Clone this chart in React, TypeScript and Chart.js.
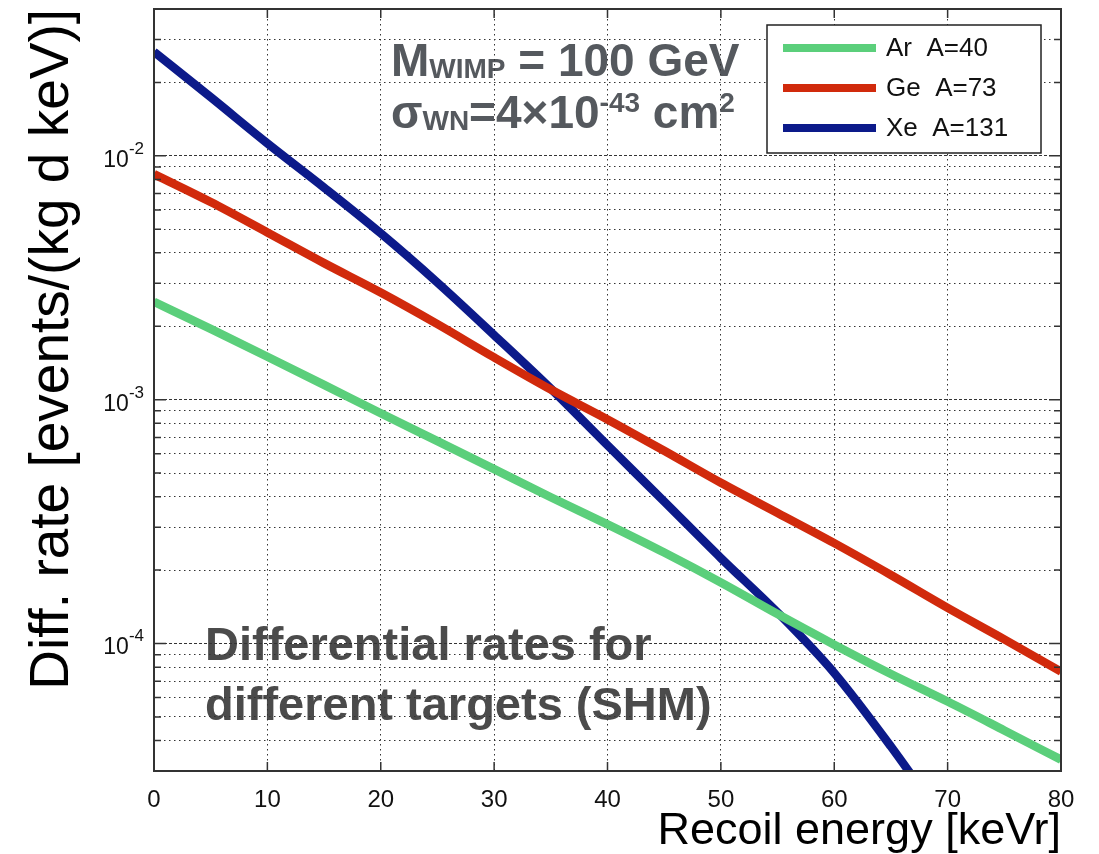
import React, { useEffect, useRef } from 'react';
import { Chart, registerables } from 'chart.js';

Chart.register(...registerables);

// ---- data ----
const energies = [0, 5, 10, 15, 20, 25, 30, 35, 40, 45, 50, 55, 60, 65, 70, 75, 80];
const arRate = [0.00252, 0.00195, 0.0015, 0.00115, 0.000879, 0.000676, 0.000519, 0.000398, 0.000308, 0.000236, 0.000178, 0.000132, 0.0000989, 0.000075, 0.0000578, 0.000044, 0.0000334];
const geRate = [0.00841, 0.00646, 0.00485, 0.00363, 0.00275, 0.00204, 0.00149, 0.0011, 0.00083, 0.000617, 0.000456, 0.000343, 0.000258, 0.000191, 0.00014, 0.000104, 0.0000767];
const xeRate = [0.0267, 0.0174, 0.01125, 0.00741, 0.00481, 0.00302, 0.00184, 0.00111, 0.00065, 0.000382, 0.000224, 0.000134, 0.0000757, 0.0000378, 0.0000178];
const seriesLabels = ['Ar  A=40', 'Ge  A=73', 'Xe  A=131'];
const seriesColors = ['#5bcf7b', '#d12a0c', '#0c1a8a'];
const xTicks = [0, 10, 20, 30, 40, 50, 60, 70, 80];
const yDecades = [-5, -4, -3, -2];
const yMin = 3e-5;
const yMax = 4e-2;

const FONT = '"Liberation Sans", Arial, Helvetica, sans-serif';

const isDecade = (v: number) => {
  const l = Math.log10(v);
  return Math.abs(l - Math.round(l)) < 1e-6;
};

function drawSegments(ctx: CanvasRenderingContext2D, x: number, y: number, segs: [string, number, number][], color: string, weight = 'bold') {
  ctx.fillStyle = color;
  ctx.textBaseline = 'alphabetic';
  ctx.textAlign = 'left';
  let cx = x;
  for (const [t, size, dy] of segs) {
    ctx.font = `${weight} ${size}px ${FONT}`;
    ctx.fillText(t, cx, y + dy);
    cx += ctx.measureText(t).width;
  }
  return cx - x;
}

const annotationPlugin = {
  id: 'annotations',
  beforeDraw(chart: any) {
    const { ctx, chartArea } = chart;
    const { left, top } = chartArea;
    ctx.save();
    const grey = '#55595e';
    drawSegments(ctx, left + 237, top + 67, [['M', 46, 0], ['WIMP', 28, 2], [' = 100 GeV', 46, 0]], grey);
    drawSegments(ctx, left + 237, top + 119, [['σ', 46, 0], ['WN', 28, 2], ['=4×10', 46, 0], ['-43', 28, -16], [' cm', 46, 0], ['2', 28, -16]], grey);
    ctx.font = `bold 47px ${FONT}`;
    ctx.fillStyle = '#4b4b4b';
    ctx.fillText('Differential rates for', left + 51, top + 651);
    ctx.fillText('different targets (SHM)', left + 51, top + 711);
    ctx.restore();
  },
};

const yLabelPlugin = {
  id: 'yLabels',
  afterDraw(chart: any) {
    const { ctx, chartArea, scales } = chart;
    ctx.save();
    scales.y.ticks.forEach((t: any) => {
      if (!isDecade(t.value)) return;
      const py = scales.y.getPixelForValue(t.value);
      const exp = String(Math.round(Math.log10(t.value)));
      ctx.font = `17px ${FONT}`;
      const wExp = ctx.measureText(exp).width;
      ctx.font = `23px ${FONT}`;
      const wBase = ctx.measureText('10').width;
      const xEnd = chartArea.left - 9;
      const x0 = xEnd - wExp - wBase - 1;
      drawSegments(ctx, x0, py + 11, [['10', 23, 0], [exp, 17, -13]], '#111', 'normal');
    });
    ctx.restore();
  },
};

const framePlugin = {
  id: 'frame',
  afterDatasetsDraw(chart: any) {
    const { ctx, chartArea, scales } = chart;
    const { left, right, top, bottom } = chartArea;
    ctx.save();
    ctx.strokeStyle = '#333';
    ctx.lineWidth = 1.5;
    ctx.beginPath();
    scales.x.ticks.forEach((t: any) => {
      const px = scales.x.getPixelForValue(t.value);
      ctx.moveTo(px, bottom);
      ctx.lineTo(px, bottom - 9);
      ctx.moveTo(px, top);
      ctx.lineTo(px, top + 9);
    });
    scales.y.ticks.forEach((t: any) => {
      const py = scales.y.getPixelForValue(t.value);
      const len = isDecade(t.value) ? 12 : 7;
      ctx.moveTo(left, py);
      ctx.lineTo(left + len, py);
      ctx.moveTo(right, py);
      ctx.lineTo(right - len, py);
    });
    ctx.stroke();
    ctx.lineWidth = 2;
    ctx.strokeRect(left, top, right - left, bottom - top);

    // legend box
    const bx = right - 294;
    const by = top + 16;
    const bw = 274;
    const bh = 128;
    ctx.fillStyle = '#ffffff';
    ctx.fillRect(bx, by, bw, bh);
    ctx.lineWidth = 1.5;
    ctx.strokeStyle = '#222';
    ctx.strokeRect(bx, by, bw, bh);
    chart.data.datasets.forEach((ds: any, i: number) => {
      const y = by + 23 + i * 40;
      ctx.strokeStyle = ds.borderColor;
      ctx.lineWidth = 8;
      ctx.beginPath();
      ctx.moveTo(bx + 16, y);
      ctx.lineTo(bx + 109, y);
      ctx.stroke();
      ctx.fillStyle = '#111';
      ctx.font = `26px ${FONT}`;
      ctx.textBaseline = 'middle';
      ctx.textAlign = 'left';
      ctx.fillText(ds.label, bx + 119, y + 1);
    });
    ctx.restore();
  },
};

export default function App() {
  const canvasRef = useRef<HTMLCanvasElement | null>(null);

  useEffect(() => {
    if (!canvasRef.current) return;
    const mk = (xs: number[], ys: number[]) => ys.map((y, i) => ({ x: xs[i], y }));
    const rates = [arRate, geRate, xeRate];
    const chart = new Chart(canvasRef.current, {
      type: 'line',
      data: {
        datasets: rates.map((r, i) => ({
          label: seriesLabels[i],
          data: mk(energies, r),
          borderColor: seriesColors[i],
          backgroundColor: seriesColors[i],
          borderWidth: 8.5,
          pointRadius: 0,
          fill: false,
          cubicInterpolationMode: 'monotone' as const,
        })),
      },
      options: {
        animation: false,
        responsive: true,
        maintainAspectRatio: false,
        layout: { padding: { left: 0, right: 38, top: 9, bottom: 0 } },
        plugins: {
          legend: { display: false },
          tooltip: { enabled: false },
        },
        scales: {
          x: {
            type: 'linear',
            min: 0,
            max: 80,
            afterBuildTicks: (scale: any) => {
              scale.ticks = xTicks.map((v) => ({ value: v }));
            },
            afterFit: (scale: any) => {
              scale.height = 83;
              scale.paddingLeft = 0;
              scale.paddingRight = 0;
            },
            ticks: {
              autoSkip: false,
              padding: 15,
              color: '#111',
              font: { family: FONT, size: 24 },
              maxRotation: 0,
            },
            grid: { color: '#333', lineWidth: 1, drawTicks: false },
            border: { display: false, dash: [1.5, 3.5] },
            title: {
              display: true,
              text: 'Recoil energy [keVr]',
              align: 'end',
              color: '#000',
              font: { family: FONT, size: 45, lineHeight: 1 },
              padding: 0,
            },
          },
          y: {
            type: 'logarithmic',
            min: yMin,
            max: yMax,
            afterBuildTicks: (scale: any) => {
              const ticks: { value: number }[] = [];
              yDecades.forEach((e) => {
                for (let s = 1; s <= 9; s++) {
                  const v = s * Math.pow(10, e);
                  if (v >= yMin * 0.999 && v <= yMax * 1.001) ticks.push({ value: v });
                }
              });
              scale.ticks = ticks;
            },
            afterFit: (scale: any) => {
              scale.width = 154;
              scale.paddingTop = 0;
              scale.paddingBottom = 0;
            },
            ticks: {
              autoSkip: false,
              padding: 8,
              color: '#111',
              font: { family: FONT, size: 23 },
              callback: () => '',
            },
            grid: { color: '#333', lineWidth: 1, drawTicks: false },
            border: {
              display: false,
              dash: (ctx: any) => (ctx.tick && isDecade(ctx.tick.value) ? [3, 2] : [1.5, 3.5]),
            },
            title: {
              display: true,
              text: 'Diff. rate [events/(kg d keV)]',
              align: 'end',
              color: '#000',
              font: { family: FONT, size: 55, lineHeight: 1.2 },
              padding: { top: 20, bottom: 0 },
            },
          },
        },
      },
      plugins: [annotationPlugin, framePlugin, yLabelPlugin],
    } as any);
    return () => chart.destroy();
  }, []);

  return (
    <div style={{ position: 'fixed', left: 0, top: 0, width: 1099, height: 854, background: '#fff' }}>
      <canvas ref={canvasRef} />
    </div>
  );
}
